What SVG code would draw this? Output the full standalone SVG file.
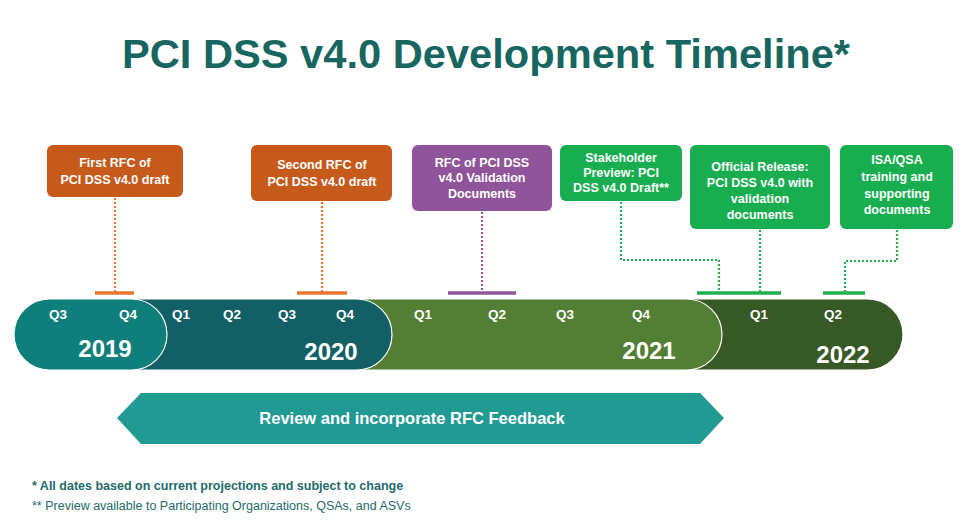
<svg xmlns="http://www.w3.org/2000/svg" width="969" height="521" viewBox="0 0 969 521">
<style>
text{font-family:"Liberation Sans",Arial,sans-serif;font-weight:bold;}
.bt{fill:#fff;font-size:12.5px;text-anchor:middle;}
.q{fill:#fff;font-size:13.5px;text-anchor:middle;}
.yr{fill:#fff;font-size:24px;text-anchor:middle;}
.dot{fill:none;stroke-width:2.2;stroke-dasharray:2 2;}
.bar{stroke-width:3.5;}
.or{stroke:#e8772e;}
.pu{stroke:#8f5499;}
.gr{stroke:#22b04f;}
.band{stroke:#fff;stroke-width:1.2;}
</style>
<rect width="969" height="521" fill="#fff"/>
<text x="486" y="68" text-anchor="middle" font-size="41" fill="#17665f" textLength="728" lengthAdjust="spacingAndGlyphs">PCI DSS v4.0 Development Timeline*</text>

<g id="connectors">
<path class="dot or" d="M115 198V292"/><path class="bar or" d="M95 293H134"/>
<path class="dot or" d="M322 202V292"/><path class="bar or" d="M297 293H347"/>
<path class="dot pu" d="M482 212V292"/><path class="bar pu" d="M448 293H516"/>
<path class="dot gr" d="M621 202V260H719V292"/>
<path class="dot gr" d="M760 230V292"/><path class="bar gr" d="M697 293H781"/>
<path class="dot gr" d="M897 230V261H845V292"/><path class="bar gr" d="M823 293H865"/>
</g>

<g id="timeline">
<rect class="band" x="330" y="299" width="573" height="71" rx="35.5" fill="#375926"/>
<rect class="band" x="150" y="299" width="572" height="71" rx="35.5" fill="#527f34"/>
<rect class="band" x="14" y="299" width="378" height="71" rx="35.5" fill="#135f66"/>
<rect class="band" x="14" y="299" width="153" height="71" rx="35.5" fill="#0e7f7b"/>
<text class="q" x="58" y="319">Q3</text><text class="q" x="128" y="319">Q4</text>
<text class="q" x="181" y="319">Q1</text><text class="q" x="232" y="319">Q2</text>
<text class="q" x="287" y="319">Q3</text><text class="q" x="345" y="319">Q4</text>
<text class="q" x="423" y="319">Q1</text><text class="q" x="497" y="319">Q2</text>
<text class="q" x="565" y="319">Q3</text><text class="q" x="641" y="319">Q4</text>
<text class="q" x="759" y="319">Q1</text><text class="q" x="833" y="319">Q2</text>
<text class="yr" x="105" y="357">2019</text>
<text class="yr" x="331" y="360">2020</text>
<text class="yr" x="649" y="359">2021</text>
<text class="yr" x="843" y="363">2022</text>
</g>

<g id="box1"><rect x="47" y="145" width="136" height="52" rx="6" fill="#c55a1b"/>
<text class="bt" x="115" y="167">First RFC of</text><text class="bt" x="115" y="184">PCI DSS v4.0 draft</text></g>
<g id="box2"><rect x="251" y="145" width="141" height="56" rx="6" fill="#c55a1b"/>
<text class="bt" x="322" y="169">Second RFC of</text><text class="bt" x="322" y="186">PCI DSS v4.0 draft</text></g>
<g id="box3"><rect x="412" y="145" width="140" height="66" rx="6" fill="#8f5499"/>
<text class="bt" x="482" y="167">RFC of PCI DSS</text><text class="bt" x="482" y="182">v4.0 Validation</text><text class="bt" x="482" y="198">Documents</text></g>
<g id="box4"><rect x="560" y="145" width="122" height="56" rx="6" fill="#18ae4f"/>
<text class="bt" x="621" y="162">Stakeholder</text><text class="bt" x="621" y="177">Preview: PCI</text><text class="bt" x="621" y="192">DSS v4.0 Draft**</text></g>
<g id="box5"><rect x="690" y="145" width="140" height="84" rx="6" fill="#18ae4f"/>
<text class="bt" x="760" y="171">Official Release:</text><text class="bt" x="760" y="187">PCI DSS v4.0 with</text><text class="bt" x="760" y="203">validation</text><text class="bt" x="760" y="219">documents</text></g>
<g id="box6"><rect x="840" y="145" width="113" height="84" rx="6" fill="#18ae4f"/>
<text class="bt" x="897" y="164">ISA/QSA</text><text class="bt" x="897" y="181">training and</text><text class="bt" x="897" y="198">supporting</text><text class="bt" x="897" y="214">documents</text></g>

<g id="review">
<polygon points="117,418 141,393 700,393 724,418 700,444 141,444" fill="#229a94"/>
<text x="412" y="424" text-anchor="middle" font-size="16.5" fill="#fff">Review and incorporate RFC Feedback</text>
</g>

<text x="32" y="490" font-size="12.5" fill="#1e6b6b">* All dates based on current projections and subject to change</text>
<text x="32" y="510" font-size="12.5" fill="#1e6b6b" style="font-weight:normal">** Preview available to Participating Organizations, QSAs, and ASVs</text>
</svg>
